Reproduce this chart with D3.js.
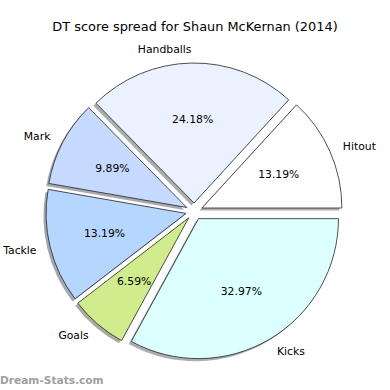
<!DOCTYPE html>
<html>
<head>
<meta charset="utf-8">
<script src="https://cdn.jsdelivr.net/npm/d3@7"></script>
<style>
  body { margin: 0; background: #fff; }
  svg { display: block; font-family: "DejaVu Sans", sans-serif; }
</style>
</head>
<body>
<div id="chart"></div>
<script>
// DT points per stat type
var categories = ["Hitout", "Handballs", "Mark", "Tackle", "Goals", "Kicks"];
var values = [12, 22, 9, 12, 6, 30];
var colors = ["#ffffff", "#ebf2ff", "#c6d9ff", "#b4d6ff", "#d0ec8c", "#dcffff"];

var W = 390, H = 390;
var cx = 194.2, cy = 211.4, r = 140, explode = 8.4;

var svg = d3.select("#chart").append("svg").attr("width", W).attr("height", H);

// title
svg.append("text").attr("x", 195).attr("y", 31).attr("text-anchor", "middle")
  .attr("font-size", 12.9).text("DT score spread for Shaun McKernan (2014)");

// matplotlib style: start at east, counter-clockwise
var total = d3.sum(values);
var toRad = d3.scaleLinear().domain([0, total]).range([0, 2 * Math.PI]);
var slices = [];
var acc = 0;
values.forEach(function(v, i) {
  slices.push({ name: categories[i], value: v, a0: toRad(acc), a1: toRad(acc + v), color: colors[i] });
  acc += v;
});

// d3.arc angles are clockwise from north; convert
var arc = d3.arc().innerRadius(0).outerRadius(r);
function d3arc(s) {
  return arc({ startAngle: Math.PI / 2 - s.a1, endAngle: Math.PI / 2 - s.a0 });
}
slices.forEach(function(s) {
  var mid = (s.a0 + s.a1) / 2;
  s.mid = mid;
  s.ox = cx + explode * Math.cos(mid);
  s.oy = cy - explode * Math.sin(mid);
});

// shadows
svg.append("g").selectAll("path").data(slices).enter().append("path")
  .attr("transform", function(d) { return "translate(" + (d.ox - 2.6) + "," + (d.oy + 2.6) + ")"; })
  .attr("d", d3arc)
  .attr("fill", function(d) { var c = d3.rgb(d.color); return d3.rgb(c.r * 0.3, c.g * 0.3, c.b * 0.3); })
  .attr("opacity", 0.45);

// wedges
svg.append("g").selectAll("path").data(slices).enter().append("path")
  .attr("transform", function(d) { return "translate(" + d.ox + "," + d.oy + ")"; })
  .attr("d", d3arc)
  .attr("fill", function(d) { return d.color; })
  .attr("stroke", "#222").attr("stroke-width", 0.8).attr("stroke-linejoin", "miter");

// category labels
svg.append("g").selectAll("text").data(slices).enter().append("text")
  .attr("x", function(d) { return d.ox + 1.1 * r * Math.cos(d.mid); })
  .attr("y", function(d) { return d.oy - 1.1 * r * Math.sin(d.mid); })
  .attr("dy", "0.35em")
  .attr("text-anchor", function(d) { return Math.cos(d.mid) > 0 ? "start" : "end"; })
  .attr("font-size", 10.8).text(function(d) { return d.name; });

// percentages
svg.append("g").selectAll("text").data(slices).enter().append("text")
  .attr("x", function(d) { return d.ox + 0.6 * r * Math.cos(d.mid); })
  .attr("y", function(d) { return d.oy - 0.6 * r * Math.sin(d.mid); })
  .attr("dy", "0.35em").attr("text-anchor", "middle")
  .attr("font-size", 10.8).text(function(d) { return (d.value / total * 100).toFixed(2) + "%"; });

// watermark
svg.append("text").attr("x", 0).attr("y", 384).attr("font-size", 10.6).attr("font-weight", "bold")
  .attr("fill", "#a0a0a0").text("Dream-Stats.com");
</script>
</body>
</html>
